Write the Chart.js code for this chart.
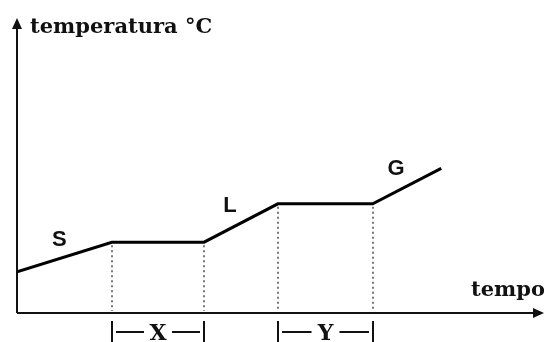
<!DOCTYPE html>
<html>
<head>
<meta charset="utf-8">
<script src="https://cdn.jsdelivr.net/npm/chart.js@4"></script>
<style>
  html, body { margin: 0; padding: 0; background: #fff; }
  #wrap { width: 544px; height: 342px; position: relative; }
</style>
</head>
<body>
<div id="wrap"><canvas id="grafico"></canvas></div>
<script>
// Curva de aquecimento
const tempo = [0, 1.8, 3.55, 4.95, 6.75, 8.05]
const temperatura = [14, 24, 24, 37, 37, 49]
const fases = ["S", "L", "G"]          // one per rising segment
const segmentosFase = [0, 2, 4]        // start index of each rising segment
const patamares = ["X", "Y"]           // plateau names
const inicioPatamar = [1, 3]           // start index of each plateau
const tituloY = "temperatura °C"
const tituloX = "tempo"

const pontos = tempo.map((t, i) => ({ x: t, y: temperatura[i] }))

function seta(ctx, x, y, dir) {
  ctx.beginPath()
  if (dir === "up") {
    ctx.moveTo(x, y); ctx.lineTo(x - 5, y + 11); ctx.lineTo(x + 5, y + 11)
  } else {
    ctx.moveTo(x, y); ctx.lineTo(x - 11, y - 5); ctx.lineTo(x - 11, y + 5)
  }
  ctx.closePath()
  ctx.fill()
}

const desenho = {
  id: "desenho",
  beforeDatasetsDraw(chart) {
    const { ctx, chartArea: a, scales } = chart
    const sx = scales.x, sy = scales.y
    ctx.save()
    // dotted drop lines at plateau ends
    ctx.strokeStyle = "#777"
    ctx.lineWidth = 2
    ctx.setLineDash([2, 3])
    inicioPatamar.forEach((i) => {
      ;[i, i + 1].forEach((k) => {
        const px = Math.round(sx.getPixelForValue(tempo[k]))
        ctx.beginPath()
        ctx.moveTo(px, sy.getPixelForValue(temperatura[k]) + 3)
        ctx.lineTo(px, a.bottom - 2)
        ctx.stroke()
      })
    })
    ctx.setLineDash([])
    // axes
    ctx.strokeStyle = "#111"
    ctx.fillStyle = "#111"
    ctx.lineWidth = 2
    ctx.beginPath()
    ctx.moveTo(a.left, a.bottom)
    ctx.lineTo(a.left, a.top + 6)
    ctx.moveTo(a.left, a.bottom)
    ctx.lineTo(a.right - 6, a.bottom)
    ctx.stroke()
    seta(ctx, a.left, a.top, "up")
    seta(ctx, a.right, a.bottom, "right")
    ctx.restore()
  },
  afterDatasetsDraw(chart) {
    const { ctx, chartArea: a, scales } = chart
    const sx = scales.x, sy = scales.y
    ctx.save()
    ctx.fillStyle = "#111"
    ctx.textBaseline = "alphabetic"
    // axis titles
    ctx.font = "bold 21px 'DejaVu Serif'"
    ctx.textAlign = "left"
    ctx.fillText(tituloY, a.left + 13, a.top + 15)
    ctx.textAlign = "right"
    ctx.fillText(tituloX, a.right + 1, a.bottom - 17)
    // phase letters
    ctx.font = "bold 22px 'Liberation Sans'"
    ctx.textAlign = "center"
    ctx.textBaseline = "middle"
    fases.forEach((f, j) => {
      const i = segmentosFase[j]
      const mx = (sx.getPixelForValue(tempo[i]) + sx.getPixelForValue(tempo[i + 1])) / 2
      const my = (sy.getPixelForValue(temperatura[i]) + sy.getPixelForValue(temperatura[i + 1])) / 2
      const dx = j === 0 ? -5 : -11
      ctx.fillText(f, mx + dx, my - 17)
    })
    // plateau brackets
    ctx.strokeStyle = "#111"
    ctx.lineWidth = 2
    ctx.font = "bold 22px 'DejaVu Serif'"
    ctx.textBaseline = "alphabetic"
    patamares.forEach((p, j) => {
      const i = inicioPatamar[j]
      const x1 = Math.round(sx.getPixelForValue(tempo[i]))
      const x2 = Math.round(sx.getPixelForValue(tempo[i + 1]))
      const cy = a.bottom + 19
      const cx = (x1 + x2) / 2
      ctx.beginPath()
      ctx.moveTo(x1, a.bottom + 8); ctx.lineTo(x1, a.bottom + 32)
      ctx.moveTo(x2, a.bottom + 8); ctx.lineTo(x2, a.bottom + 32)
      ctx.moveTo(x1 + 4, cy); ctx.lineTo(cx - 14, cy)
      ctx.moveTo(cx + 14, cy); ctx.lineTo(x2 - 4, cy)
      ctx.stroke()
      ctx.fillText(p, cx, a.bottom + 27)
    })
    ctx.restore()
  },
}

new Chart(document.getElementById("grafico"), {
  type: "line",
  data: {
    datasets: [
      {
        data: pontos,
        borderColor: "#000",
        borderWidth: 3,
        pointRadius: 0,
        tension: 0,
        borderJoinStyle: "miter",
      },
    ],
  },
  options: {
    responsive: true,
    maintainAspectRatio: false,
    animation: false,
    layout: { padding: { left: 17, right: 0, top: 18, bottom: 29 } },
    plugins: { legend: { display: false }, tooltip: { enabled: false } },
    scales: {
      x: { type: "linear", display: false, min: 0, max: 10 },
      y: { type: "linear", display: false, min: 0, max: 100 },
    },
  },
  plugins: [desenho],
})
</script>
</body>
</html>
